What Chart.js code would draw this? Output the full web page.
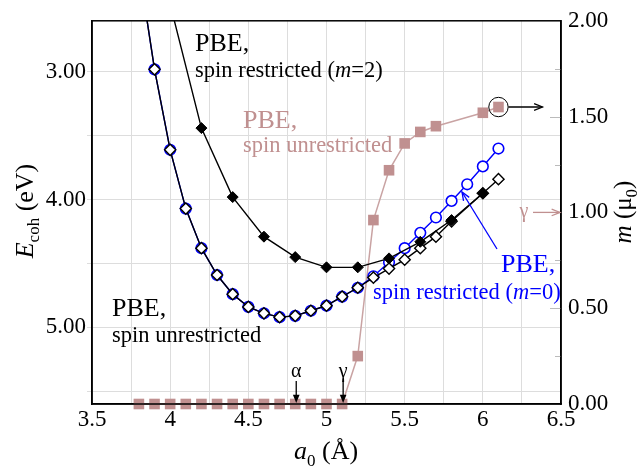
<!DOCTYPE html>
<html>
<head>
<meta charset="utf-8">
<script src="https://cdn.jsdelivr.net/npm/chart.js@4"></script>
<style>
  html, body { margin: 0; padding: 0; background: #fff; }
  #wrap { width: 640px; height: 472px; }
</style>
</head>
<body>
<div id="wrap"><canvas id="myChart"></canvas></div>
<script>
const ctx = document.getElementById('myChart');

// PBE spin unrestricted: cohesive energy (eV) vs lattice constant a0 (Å)
const aUnres = [3.8, 3.9, 4.0, 4.1, 4.2, 4.3, 4.4, 4.5, 4.6, 4.7, 4.8, 4.9, 5.0, 5.1, 5.2, 5.3, 5.4, 5.5, 5.6, 5.7, 5.8, 6.0, 6.1];
const eUnres = [2.18, 2.98, 3.61, 4.07, 4.38, 4.59, 4.74, 4.84, 4.89, 4.92, 4.91, 4.87, 4.83, 4.76, 4.69, 4.61, 4.54, 4.47, 4.38, 4.29, 4.17, 3.95, 3.84];

// PBE spin restricted, m=0
const aRes0 = [3.8, 3.9, 4.0, 4.1, 4.2, 4.3, 4.4, 4.5, 4.6, 4.7, 4.8, 4.9, 5.0, 5.1, 5.2, 5.3, 5.4, 5.5, 5.6, 5.7, 5.8, 5.9, 6.0, 6.1];
const eRes0 = [2.18, 2.98, 3.61, 4.07, 4.38, 4.59, 4.74, 4.84, 4.89, 4.92, 4.91, 4.87, 4.83, 4.76, 4.69, 4.60, 4.49, 4.38, 4.26, 4.14, 4.01, 3.88, 3.74, 3.60];

// PBE spin restricted, m=2
const aRes2 = [4.0, 4.2, 4.4, 4.6, 4.8, 5.0, 5.2, 5.4, 5.6, 5.8, 6.0];
const eRes2 = [2.47, 3.44, 3.98, 4.29, 4.45, 4.53, 4.53, 4.46, 4.33, 4.16, 3.95];

// magnetic moment m (mu0), right axis
const aMom = [3.8, 3.9, 4.0, 4.1, 4.2, 4.3, 4.4, 4.5, 4.6, 4.7, 4.8, 4.9, 5.0, 5.1, 5.2, 5.3, 5.4, 5.5, 5.6, 5.7, 6.0, 6.1];
const mMom = [0, 0, 0, 0, 0, 0, 0, 0, 0, 0, 0, 0, 0, 0, 0.25, 0.96, 1.22, 1.36, 1.42, 1.45, 1.52, 1.55];

// ticks
const xGridTicks = [3.5, 3.75, 4, 4.25, 4.5, 4.75, 5, 5.25, 5.5, 5.75, 6, 6.25, 6.5];
const xTickLabels = ['3.5', '4', '4.5', '5', '5.5', '6', '6.5'];
const eGridTicks = [3, 3.5, 4, 4.5, 5, 5.5];
const eTickLabels = ['3.00', '4.00', '5.00'];
const mTicks = [0, 0.5, 1, 1.5, 2];
const mMinorTicks = [0.25, 0.5, 0.75, 1, 1.25, 1.5, 1.75];

const rosy = '#c09090';
const SERIF = '"Liberation Serif", "Times New Roman", serif';

const pts = (xs, ys) => xs.map((x, i) => ({ x: x, y: ys[i] }));

function rich(c, parts, x, y, color) {
  c.fillStyle = color;
  c.textBaseline = 'alphabetic';
  c.textAlign = 'left';
  let cx = x;
  parts.forEach(p => {
    c.font = p[1];
    c.fillText(p[0], cx, y + (p[2] || 0));
    cx += c.measureText(p[0]).width;
  });
  return cx - x;
}

function arrow(c, x1, y1, x2, y2, color, filled) {
  const ang = Math.atan2(y2 - y1, x2 - x1);
  const L = 9, W = 0.38;
  c.strokeStyle = color;
  c.fillStyle = color;
  c.lineWidth = 1.3;
  c.beginPath();
  c.moveTo(x1, y1);
  c.lineTo(filled ? x2 - Math.cos(ang) * 5 : x2, filled ? y2 - Math.sin(ang) * 5 : y2);
  c.stroke();
  c.beginPath();
  c.moveTo(x2 - L * Math.cos(ang - W), y2 - L * Math.sin(ang - W));
  c.lineTo(x2, y2);
  c.lineTo(x2 - L * Math.cos(ang + W), y2 - L * Math.sin(ang + W));
  if (filled) { c.closePath(); c.fill(); } else { c.stroke(); }
}

const decorations = {
  id: 'decorations',
  afterDatasetsDraw(chart) {
    const c = chart.ctx;
    const ca = chart.chartArea;
    const xs = chart.scales.x, y2 = chart.scales.y2;
    c.save();

    // inner ticks on the moment axis
    c.strokeStyle = '#bbbbbb';
    c.lineWidth = 1;
    mMinorTicks.forEach(v => {
      const py = Math.round(y2.getPixelForValue(v)) + 0.5;
      const len = (v * 2) % 1 === 0 ? 11 : 6;
      c.beginPath(); c.moveTo(ca.right - len, py); c.lineTo(ca.right, py); c.stroke();
    });

    // frame
    c.strokeStyle = '#000';
    c.lineWidth = 1.5;
    c.strokeRect(ca.left, ca.top, ca.right - ca.left, ca.bottom - ca.top);

    // series labels
    const big = '26px ' + SERIF, small = '22.5px ' + SERIF, smallIt = 'italic 22.5px ' + SERIF;
    rich(c, [['PBE,', big]], 195, 51, '#000');
    rich(c, [['spin restricted (', small], ['m', smallIt], ['=2)', small]], 195, 77, '#000');
    rich(c, [['PBE,', big]], 243, 128, rosy);
    rich(c, [['spin unrestricted', small]], 243, 152, rosy);
    rich(c, [['PBE,', big]], 112, 316, '#000');
    rich(c, [['spin unrestricted', small]], 112, 342, '#000');
    rich(c, [['PBE,', big]], 501, 272, '#0000ff');
    rich(c, [['spin restricted (', small], ['m', smallIt], ['=0)', small]], 373, 299, '#0000ff');

    // blue pointer to the m=0 curve
    arrow(c, 497, 249, 462, 192, '#0000ff', false);

    // circled end point of the moment curve with arrow to its axis
    const px = xs.getPixelForValue(aMom[aMom.length - 1]);
    const py = y2.getPixelForValue(mMom[mMom.length - 1]);
    c.strokeStyle = '#000';
    c.lineWidth = 1;
    c.beginPath(); c.arc(px, py, 9.7, 0, Math.PI * 2); c.stroke();
    arrow(c, px + 10, py, px + 44, py, '#000', false);

    // gamma marker at m = 1 on the right axis
    const gy = y2.getPixelForValue(1);
    c.font = '20px ' + SERIF;
    c.fillStyle = rosy;
    c.textAlign = 'center';
    c.fillText('\u03b3', 524, gy + 5);
    arrow(c, 533, gy, ca.right - 1, gy, rosy, false);

    // alpha / gamma transitions on the a0 axis
    [['\u03b1', 4.8], ['\u03b3', 5.1]].forEach(([t, a]) => {
      const ax = xs.getPixelForValue(a);
      c.font = '20px ' + SERIF;
      c.fillStyle = '#000';
      c.textAlign = 'center';
      c.fillText(t, ax + 1, 377);
      arrow(c, ax + 1, 381, ax + 1, ca.bottom - 1, '#000', true);
    });

    // axis titles
    c.save();
    c.translate(33, 211);
    c.rotate(-Math.PI / 2);
    c.font = 'italic 26px ' + SERIF;
    let w = c.measureText('E').width;
    c.font = '17px ' + SERIF;
    w += c.measureText('coh').width;
    c.font = '26px ' + SERIF;
    w += c.measureText(' (eV)').width;
    rich(c, [['E', 'italic 26px ' + SERIF], ['coh', '17px ' + SERIF, 6], [' (eV)', '26px ' + SERIF]], -w / 2, 0, '#000');
    c.restore();

    c.save();
    c.translate(631, 212);
    c.rotate(-Math.PI / 2);
    c.font = 'italic 25px ' + SERIF;
    let w2 = c.measureText('m').width;
    c.font = '25px ' + SERIF;
    w2 += c.measureText(' (\u03bc)').width;
    c.font = '17px ' + SERIF;
    w2 += c.measureText('0').width;
    rich(c, [['m', 'italic 25px ' + SERIF], [' (\u03bc', '25px ' + SERIF], ['0', '17px ' + SERIF, 6], [')', '25px ' + SERIF]], -w2 / 2, 0, '#000');
    c.restore();

    rich(c, [['a', 'italic 26px ' + SERIF], ['0', '17px ' + SERIF, 7], [' (\u00c5)', '26px ' + SERIF]], 294, 459, '#000');

    c.restore();
  }
};

new Chart(ctx, {
  type: 'scatter',
  data: {
    datasets: [
      {
        label: 'PBE, spin restricted (m=2)',
        data: pts(aRes2, eRes2),
        yAxisID: 'y',
        showLine: true,
        borderColor: '#000',
        borderWidth: 1.4,
        pointStyle: 'rectRot',
        pointRadius: 5.5,
        pointBackgroundColor: '#000',
        pointBorderColor: '#000',
        pointBorderWidth: 1
      },
      {
        label: 'PBE, spin unrestricted',
        data: pts(aUnres, eUnres),
        yAxisID: 'y',
        showLine: true,
        borderColor: '#000',
        borderWidth: 1.4,
        pointStyle: 'rectRot',
        pointRadius: 5.6,
        pointBackgroundColor: '#fff',
        pointBorderColor: '#000',
        pointBorderWidth: 1.4
      },
      {
        label: 'PBE, spin restricted (m=0)',
        data: pts(aRes0, eRes0),
        yAxisID: 'y',
        showLine: true,
        borderColor: '#0000ff',
        borderWidth: 1.4,
        pointStyle: 'circle',
        pointRadius: 5.3,
        pointBackgroundColor: '#fff',
        pointBorderColor: '#0000ff',
        pointBorderWidth: 1.6
      },
      {
        label: 'm',
        data: pts(aMom, mMom),
        yAxisID: 'y2',
        showLine: true,
        clip: false,
        borderColor: '#c9a3a3',
        borderWidth: 1.5,
        pointStyle: 'rect',
        pointRadius: 7.5,
        pointBackgroundColor: rosy,
        pointBorderColor: rosy,
        pointBorderWidth: 0
      }
    ]
  },
  options: {
    responsive: true,
    maintainAspectRatio: false,
    animation: false,
    layout: { padding: { top: 18 } },
    plugins: {
      legend: { display: false },
      tooltip: { enabled: false }
    },
    scales: {
      x: {
        type: 'linear',
        min: 3.5,
        max: 6.5,
        afterBuildTicks: s => { s.ticks = xGridTicks.map(v => ({ value: v })); },
        afterFit: s => { s.height = 68; },
        ticks: {
          autoSkip: false,
          maxRotation: 0,
          padding: 2,
          color: '#000',
          font: { family: SERIF, size: 23 },
          callback: v => xTickLabels.find(l => Number(l) === v) || ''
        },
        grid: { color: '#dddddd', drawTicks: false },
        border: { color: '#000', width: 1.5 }
      },
      y: {
        position: 'left',
        reverse: true,
        min: 2.6,
        max: 5.6,
        afterBuildTicks: s => { s.ticks = eGridTicks.map(v => ({ value: v })); },
        afterFit: s => { s.width = 92; },
        ticks: {
          autoSkip: false,
          padding: 1,
          color: '#000',
          font: { family: SERIF, size: 23 },
          callback: v => eTickLabels.find(l => Number(l) === v) || ''
        },
        grid: { color: '#dddddd', tickLength: 5 },
        border: { color: '#000', width: 1.5 }
      },
      y2: {
        position: 'right',
        min: 0,
        max: 2,
        afterBuildTicks: s => { s.ticks = mTicks.map(v => ({ value: v })); },
        afterFit: s => { s.width = 79; },
        ticks: {
          autoSkip: false,
          padding: 7,
          color: '#000',
          font: { family: SERIF, size: 23 },
          callback: v => v.toFixed(2)
        },
        grid: { drawOnChartArea: false, drawTicks: false },
        border: { color: '#000', width: 1.5 }
      }
    }
  },
  plugins: [decorations]
});
</script>
</body>
</html>
